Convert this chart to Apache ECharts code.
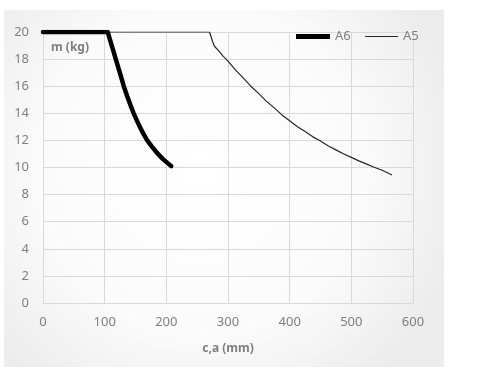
<!DOCTYPE html>
<html><head><meta charset="utf-8">
<script src="https://cdn.jsdelivr.net/npm/echarts@6/dist/echarts.min.js"></script>
<style>html,body{margin:0;padding:0;background:#fff}#c{width:488px;height:374px}</style>
</head><body><div id="c"></div>
<script>
const xTicks = [0, 100, 200, 300, 400, 500, 600];
const yTicks = [0, 2, 4, 6, 8, 10, 12, 14, 16, 18, 20];
const a6X = [0, 105, 108.2, 111.5, 114.8, 118, 121.3, 124.6, 127.8, 131, 134.7, 138.6, 142.7, 147, 151.9, 157, 162.6, 169, 176, 184.5, 195, 208];
const a6Y = [20, 20, 19.5, 19.0, 18.5, 18.0, 17.5, 17.0, 16.5, 16.0, 15.5, 15.0, 14.5, 14.0, 13.5, 13.0, 12.5, 12.0, 11.58, 11.1, 10.6, 10.1];
const a5X = [0, 270, 275, 278, 285, 292, 300, 312, 325, 337, 350, 362, 375, 387, 400, 412, 425, 437, 450, 462, 475, 487, 500, 512, 525, 537, 550, 566];
const a5Y = [20, 20, 19.3, 18.95, 18.6, 18.22, 17.85, 17.2, 16.6, 16.0, 15.45, 14.9, 14.4, 13.9, 13.45, 13.03, 12.65, 12.28, 11.95, 11.61, 11.3, 11.01, 10.75, 10.49, 10.25, 10.02, 9.8, 9.45];

const pairs = (xs, ys) => xs.map((x, i) => [x, ys[i]]);
const gray = '#7f7f7f';
const font = 'Noto Sans';

const chart = echarts.init(document.getElementById('c'));
chart.setOption({
  animation: false,
  textStyle: {fontFamily: font},
  graphic: [{
    type: 'rect', z: -10, silent: true,
    shape: {x: 4, y: 10, width: 440, height: 357},
    style: {
      fill: new echarts.graphic.RadialGradient(0.45, 0.45, 0.75, [
        {offset: 0, color: '#ffffff'},
        {offset: 0.6, color: '#fbfbfb'},
        {offset: 1, color: '#ececec'}
      ])
    }
  }],
  title: {
    text: 'm (kg)', left: 46, top: 37,
    textStyle: {fontSize: 12, fontWeight: 'bold', color: gray, fontFamily: font}
  },
  legend: [{
    data: ['A6'], left: 291, top: 25, icon: 'rect',
    itemWidth: 34, itemHeight: 5, itemGap: 4,
    textStyle: {fontSize: 13, color: gray, fontFamily: font}
  }, {
    data: ['A5'], left: 360, top: 25, icon: 'rect',
    itemWidth: 33, itemHeight: 1,
    textStyle: {fontSize: 13, color: gray, fontFamily: font}
  }],
  grid: {left: 43, right: 75, top: 32, bottom: 71, containLabel: false},
  xAxis: {
    type: 'value', min: xTicks[0], max: xTicks[xTicks.length - 1], interval: 100,
    name: 'c,a (mm)', nameLocation: 'middle', nameGap: 40,
    nameTextStyle: {fontSize: 12, fontWeight: 'bold', color: gray, fontFamily: font},
    axisLine: {show: true, lineStyle: {color: '#d9d9d9'}},
    axisTick: {show: false},
    axisLabel: {color: gray, fontSize: 13, margin: 13, fontFamily: font},
    splitLine: {show: true, lineStyle: {color: '#d9d9d9'}}
  },
  yAxis: {
    type: 'value', min: yTicks[0], max: yTicks[yTicks.length - 1], interval: 2,
    axisLine: {show: false},
    axisTick: {show: false},
    axisLabel: {color: gray, fontSize: 13, margin: 14, fontFamily: font},
    splitLine: {show: true, lineStyle: {color: '#d9d9d9'}}
  },
  series: [{
    name: 'A5', type: 'line', data: pairs(a5X, a5Y), showSymbol: false, symbol: 'none',
    color: '#262626', lineStyle: {width: 1.2, color: '#262626'}, z: 3
  }, {
    name: 'A6', type: 'line', data: pairs(a6X, a6Y), showSymbol: false, symbol: 'none',
    color: '#000', lineStyle: {width: 4.5, color: '#000', cap: 'round', join: 'round'}, z: 4
  }]
});
</script></body></html>
